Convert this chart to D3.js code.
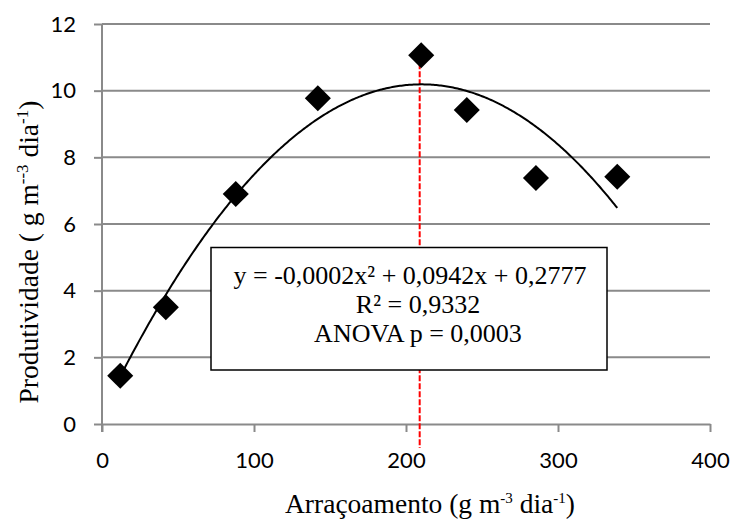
<!DOCTYPE html>
<html>
<head>
<meta charset="utf-8">
<script src="https://cdn.jsdelivr.net/npm/d3@7"></script>
<style>
  body { margin: 0; background: #fff; }
  svg { display: block; }
</style>
</head>
<body>
<div id="chart"></div>
<script>
// data
var feedRate = [12, 42, 88, 142, 210, 240, 285.5, 339];          // Arraçoamento
var productivity = [1.45, 3.5, 6.9, 9.77, 11.06, 9.42, 7.38, 7.42]; // Produtividade
var optimumFeed = 209;                                            // red dashed line
var xTicks = [0, 100, 200, 300, 400];
var yTicks = [0, 2, 4, 6, 8, 10, 12];
var boxLines = ["y = -0,0002x² + 0,0942x + 0,2777", "R² = 0,9332", "ANOVA p = 0,0003"];

var svgwidth = 731, svgheight = 522;
var gridColor = "#8a8a8a";
var serif = "'Liberation Serif', 'Times New Roman', serif";

var svg = d3.select("#chart").append("svg")
    .attr("width", svgwidth)
    .attr("height", svgheight);

var xScale = d3.scaleLinear().domain([0, 400]).range([102, 710]);
var yScale = d3.scaleLinear().domain([0, 12]).range([424, 24]);

// horizontal gridlines
svg.append("g").selectAll("line")
    .data(yTicks.filter(d => d > 0))
    .enter().append("line")
    .attr("x1", xScale(0)).attr("x2", xScale(400))
    .attr("y1", d => yScale(d)).attr("y2", d => yScale(d))
    .attr("stroke", gridColor).attr("stroke-width", 2);

// y axis
var yAxis = svg.append("g")
    .attr("transform", `translate(${xScale(0)},0)`)
    .call(d3.axisLeft(yScale).tickValues(yTicks).tickSize(8).tickPadding(18).tickSizeOuter(0));
// x axis
var xAxis = svg.append("g")
    .attr("transform", `translate(0,${yScale(0)})`)
    .call(d3.axisBottom(xScale).tickValues(xTicks).tickSize(8).tickPadding(20).tickSizeOuter(0));

[xAxis, yAxis].forEach(function(ax) {
    ax.select(".domain").attr("stroke", gridColor).attr("stroke-width", 2);
    ax.selectAll(".tick line").attr("stroke", gridColor).attr("stroke-width", 2);
    ax.selectAll(".tick text")
        .attr("fill", "#000")
        .style("font-family", "Lato, 'Open Sans', sans-serif")
        .style("font-size", "22px");
});
// y axis line runs a little below zero
yAxis.select(".domain").attr("d", `M0,${yScale(12)}V${yScale(0) + 8}`);

// red dashed line at the optimum
svg.append("line")
    .attr("x1", xScale(optimumFeed)).attr("x2", xScale(optimumFeed))
    .attr("y1", yScale(d3.max(productivity))).attr("y2", yScale(0) + 24)
    .attr("stroke", "#ff0000").attr("stroke-width", 2)
    .attr("stroke-dasharray", "6,2");

// quadratic least-squares trendline computed from the points
function quadFit(xs, ys) {
    var n = xs.length, s = [0, 0, 0, 0, 0], t = [0, 0, 0];
    for (var i = 0; i < n; i++) {
        for (var k = 0; k < 5; k++) s[k] += Math.pow(xs[i], k);
        for (var k = 0; k < 3; k++) t[k] += ys[i] * Math.pow(xs[i], k);
    }
    var M = [[s[0], s[1], s[2], t[0]], [s[1], s[2], s[3], t[1]], [s[2], s[3], s[4], t[2]]];
    for (var c = 0; c < 3; c++) {
        for (var r = c + 1; r < 3; r++) {
            var f = M[r][c] / M[c][c];
            for (var j = c; j < 4; j++) M[r][j] -= f * M[c][j];
        }
    }
    var coef = [0, 0, 0];
    for (var r = 2; r >= 0; r--) {
        var v = M[r][3];
        for (var j = r + 1; j < 3; j++) v -= M[r][j] * coef[j];
        coef[r] = v / M[r][r];
    }
    return coef; // c, b, a
}
var coef = quadFit(feedRate, productivity);
var fitX = d3.range(d3.min(feedRate), d3.max(feedRate) + 0.5, 1);
var line = d3.line()
    .x(d => xScale(d))
    .y(d => yScale(coef[0] + coef[1] * d + coef[2] * d * d));
svg.append("path")
    .datum(fitX)
    .attr("d", line)
    .attr("fill", "none")
    .attr("stroke", "#000")
    .attr("stroke-width", 2);

// diamond markers
svg.append("g").selectAll("path")
    .data(feedRate)
    .enter().append("path")
    .attr("d", d3.symbol().type(d3.symbolSquare).size(340))
    .attr("transform", (d, i) => `translate(${xScale(d)},${yScale(productivity[i])}) rotate(45)`)
    .attr("fill", "#000");

// equation box
svg.append("rect")
    .attr("x", 211).attr("y", 247.5)
    .attr("width", 396).attr("height", 122.5)
    .attr("fill", "#fff").attr("stroke", "#000").attr("stroke-width", 1.5);

var boxText = svg.append("g")
    .attr("text-anchor", "middle")
    .style("font-family", serif)
    .style("font-size", "26px");
boxText.selectAll("text")
    .data(boxLines)
    .enter().append("text")
    .attr("x", (d, i) => i === 0 ? 410 : 418)
    .attr("y", (d, i) => 284 + i * 28.8)
    .text(d => d);

// axis titles
var xTitle = svg.append("text")
    .attr("x", 430).attr("y", 513)
    .attr("text-anchor", "middle")
    .style("font-family", serif).style("font-size", "27.5px");
xTitle.append("tspan").text("Arraçoamento (g m");
xTitle.append("tspan").attr("dy", -10).style("font-size", "15px").text("-3");
xTitle.append("tspan").attr("dy", 10).text(" dia");
xTitle.append("tspan").attr("dy", -10).style("font-size", "15px").text("-1");
xTitle.append("tspan").attr("dy", 10).text(")");

var yTitle = svg.append("text")
    .attr("transform", "translate(38,252) rotate(-90)")
    .attr("text-anchor", "middle")
    .style("font-family", serif).style("font-size", "27.5px");
yTitle.append("tspan").text("Produtividade ( g m");
yTitle.append("tspan").attr("dy", -10).style("font-size", "17px").text("--3");
yTitle.append("tspan").attr("dy", 10).text(" dia");
yTitle.append("tspan").attr("dy", -10).style("font-size", "17px").text("-1");
yTitle.append("tspan").attr("dy", 10).text(")");
</script>
</body>
</html>
